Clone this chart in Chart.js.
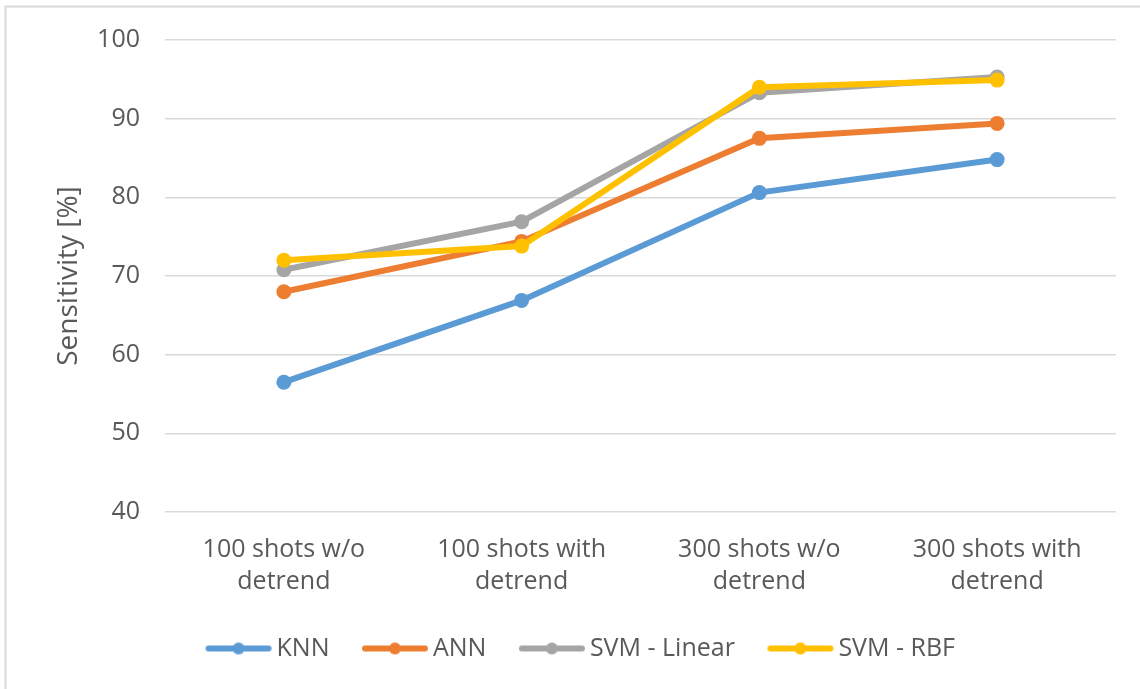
<!DOCTYPE html>
<html>
<head>
<meta charset="utf-8">
<script src="https://cdn.jsdelivr.net/npm/chart.js@4/dist/chart.umd.min.js"></script>
<style>
  html, body { margin: 0; padding: 0; background: #fff; overflow: hidden; }
  #wrap { position: relative; width: 1140px; height: 689px; }
</style>
</head>
<body>
<div id="wrap"><canvas id="c" width="1140" height="689"></canvas></div>
<script>
// Category labels (two lines each)
const categories = [
  ["100 shots w/o", "detrend"],
  ["100 shots with", "detrend"],
  ["300 shots w/o", "detrend"],
  ["300 shots with", "detrend"]
];

// Sensitivity [%] per classifier
const knnValues       = [56.5, 66.9, 80.6, 84.8];
const annValues       = [68.0, 74.4, 87.5, 89.4];
const svmLinearValues = [70.8, 76.9, 93.3, 95.3];
const svmRbfValues    = [72.0, 73.8, 94.0, 94.9];

const seriesNames  = ["KNN", "ANN", "SVM - Linear", "SVM - RBF"];
const seriesColors = ["#5B9BD5", "#ED7D31", "#A5A5A5", "#FFC000"];

// Y axis range and step
const yMin = 40, yMax = 100, yStep = 10;

const FONT = "'Open Sans', 'DejaVu Sans', sans-serif";
const TEXT = "#595959";
const GRID = "#D9D9D9";

// Legend swatch: a short thick line with a round marker in the middle
function legendSwatch(color) {
  const cv = document.createElement("canvas");
  cv.width = 68; cv.height = 18;
  const g = cv.getContext("2d");
  g.strokeStyle = color;
  g.lineWidth = 6;
  g.lineCap = "round";
  g.beginPath(); g.moveTo(4, 9); g.lineTo(64, 9); g.stroke();
  g.fillStyle = color;
  g.beginPath(); g.arc(34, 9, 6, 0, Math.PI * 2); g.fill();
  return cv;
}

// Light frame around the chart
const framePlugin = {
  id: "frame",
  beforeDraw(chart) {
    const ctx = chart.ctx;
    ctx.save();
    ctx.fillStyle = "#fff";
    ctx.fillRect(0, 0, chart.width, chart.height);
    ctx.strokeStyle = "#D9D9D9";
    ctx.lineWidth = 2;
    ctx.strokeRect(5.5, 6.5, 1200, 800);
    ctx.restore();
  }
};

// Nudge the legend row to the right so it sits under the plot
const legendShift = {
  id: "legendShift",
  afterLayout(chart) {
    const lg = chart.legend;
    if (lg) { lg.left += 26; lg.right += 26; }
  }
};

const valueSets = [knnValues, annValues, svmLinearValues, svmRbfValues];
const datasets = valueSets.map((vals, i) => ({
  label: seriesNames[i],
  data: vals,
  borderColor: seriesColors[i],
  backgroundColor: seriesColors[i],
  pointBackgroundColor: seriesColors[i],
  pointBorderColor: seriesColors[i],
  borderWidth: 6,
  pointRadius: 7.5,
  pointBorderWidth: 0,
  tension: 0,
  fill: false,
  order: valueSets.length - i
}));

new Chart(document.getElementById("c"), {
  type: "line",
  data: { labels: categories, datasets },
  plugins: [framePlugin, legendShift],
  options: {
    responsive: false,
    animation: false,
    events: [],
    layout: { padding: { left: 0, top: 40, right: 24, bottom: 18 } },
    plugins: {
      tooltip: { enabled: false },
      legend: {
        position: "bottom",
        labels: {
          usePointStyle: true,
          pointStyleWidth: 51,
          boxHeight: 18,
          padding: 40,
          color: TEXT,
          font: { family: FONT, size: 25 },
          generateLabels(chart) {
            return chart.data.datasets.map((ds, i) => ({
              text: ds.label,
              pointStyle: legendSwatch(ds.borderColor),
              fillStyle: ds.borderColor,
              strokeStyle: ds.borderColor,
              lineWidth: 0,
              fontColor: TEXT,
              hidden: false,
              datasetIndex: i
            }));
          }
        }
      }
    },
    scales: {
      x: {
        offset: true,
        grid: { display: false, drawTicks: false },
        border: { display: false },
        ticks: {
          color: TEXT,
          font: { family: FONT, size: 25, lineHeight: 1.28 },
          padding: 22,
          maxRotation: 0,
          autoSkip: false
        },
        afterFit(scale) { scale.height = 84; }
      },
      y: {
        min: yMin,
        max: yMax,
        grid: { color: GRID, lineWidth: 1.5, drawTicks: false },
        border: { display: false },
        ticks: {
          stepSize: yStep,
          color: TEXT,
          padding: 25,
          font: { family: FONT, size: 25 }
        },
        title: {
          display: true,
          text: "Sensitivity [%]",
          color: TEXT,
          font: { family: FONT, size: 28 },
          padding: { top: 52, bottom: 0 }
        },
        afterFit(scale) { scale.width = 165; }
      }
    }
  }
});
</script>
</body>
</html>
